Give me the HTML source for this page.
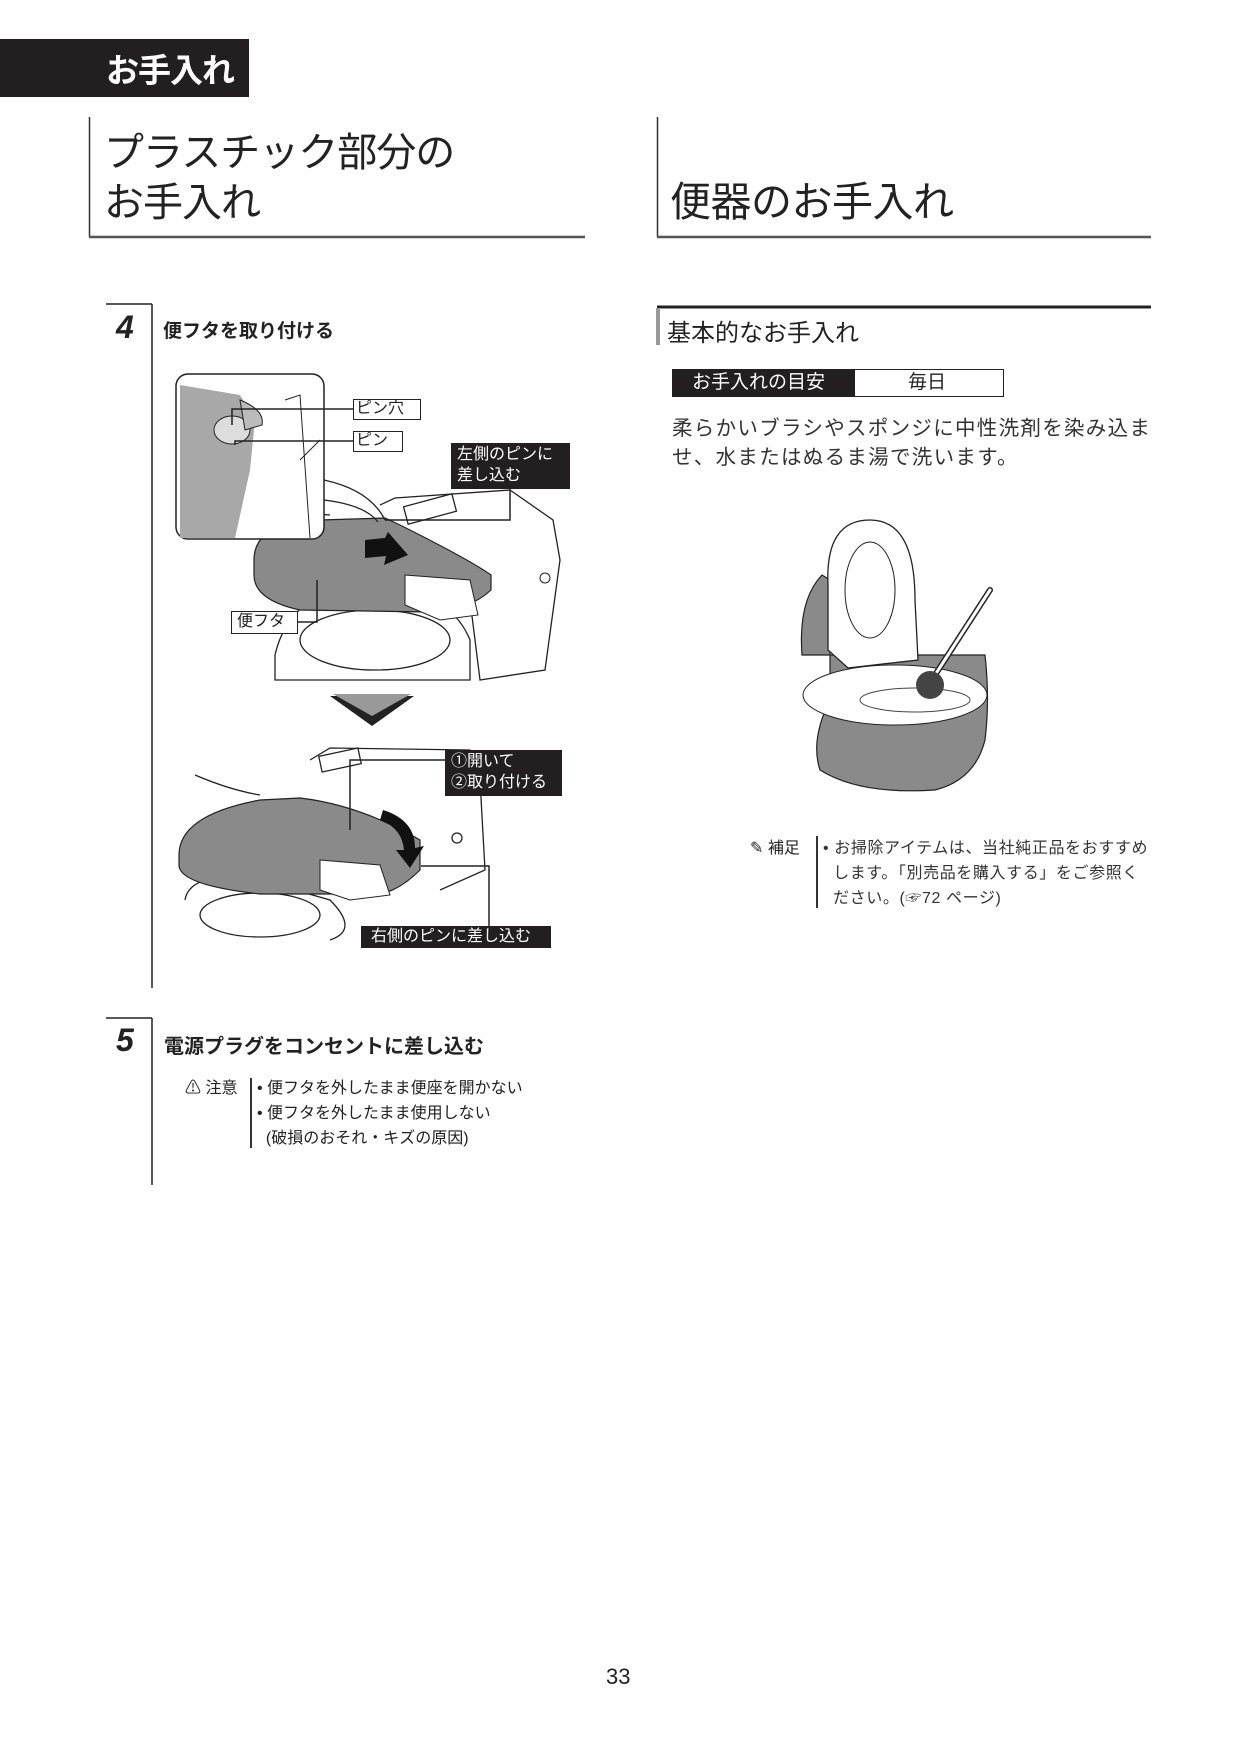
<!DOCTYPE html>
<html><head><meta charset="utf-8">
<style>
body{margin:0;background:#fff;}
#p{position:relative;width:1240px;height:1754px;overflow:hidden;font-family:"Liberation Sans","Noto Sans CJK JP",sans-serif;color:#222;}
.a{position:absolute;white-space:nowrap;}
</style></head><body><div id="p">
<svg width="1240" height="1754" style="position:absolute;left:0;top:0">
<rect x="0" y="39" width="249" height="58" fill="#231f20"/>
<line x1="89.5" y1="117" x2="89.5" y2="237" stroke="#333" stroke-width="1.5"/>
<line x1="89" y1="237" x2="585" y2="237" stroke="#555" stroke-width="2.5"/>
<line x1="657.5" y1="117" x2="657.5" y2="237" stroke="#333" stroke-width="1.5"/>
<line x1="657" y1="237" x2="1151" y2="237" stroke="#555" stroke-width="2.5"/>
<line x1="106" y1="304" x2="152" y2="304" stroke="#222" stroke-width="1.5"/>
<line x1="152" y1="304" x2="152" y2="988" stroke="#222" stroke-width="1.5"/>
<line x1="106" y1="1018" x2="152" y2="1018" stroke="#222" stroke-width="1.5"/>
<line x1="152" y1="1018" x2="152" y2="1185" stroke="#222" stroke-width="1.5"/>
<line x1="251" y1="1078" x2="251" y2="1148" stroke="#333" stroke-width="2"/>
<line x1="657" y1="307" x2="1151" y2="307" stroke="#222" stroke-width="3"/>
<line x1="658" y1="308" x2="658" y2="345" stroke="#999" stroke-width="4"/>
<rect x="672.5" y="369.5" width="331" height="27" fill="#fff" stroke="#222"/>
<rect x="672" y="369" width="183" height="28" fill="#231f20"/>
<line x1="817" y1="836" x2="817" y2="908" stroke="#333" stroke-width="2"/>
<g stroke="#222" stroke-width="1.3" fill="none">
<path d="M380 505 L395 498 L510 490 L553 520 L560 560 L545 670 L480 680 L470 600" fill="#fff"/>
<rect x="405" y="500" width="50" height="18" transform="rotate(-15 430 509)"/>
<path d="M275 655 Q290 590 370 580 Q450 590 470 640 L470 680 L275 680 Z" fill="#fff"/>
<ellipse cx="375" cy="640" rx="75" ry="30"/>
<path d="M265 520 Q300 512 330 515"/>
</g>
<path d="M254 560 Q254 522 320 520 L385 518 L400 525 Q470 560 491 575 L491 590 Q470 610 430 612 L300 610 Q254 600 254 575 Z" fill="#8a8a8a" stroke="#222" stroke-width="1.2"/>
<path d="M405 575 L470 580 L478 615 L440 620 L405 605 Z" fill="#fff" stroke="#222" stroke-width="1"/>
<path d="M365 540 L385 538 L388 532 L408 555 L384 565 L386 556 L365 558 Z" fill="#111"/>
<circle cx="545" cy="578" r="5" fill="none" stroke="#222"/>
<rect x="176" y="374" width="148" height="165" rx="12" fill="#fff" stroke="#222" stroke-width="1.5"/>
<path d="M180 385 L240 395 L255 420 L250 470 L235 538 L180 538 Z" fill="#a8a8a8"/>
<ellipse cx="232" cy="430" rx="18" ry="14" fill="#ddd" stroke="#222"/>
<path d="M240 400 Q265 410 262 425 L245 430 Z" fill="#bbb" stroke="#222"/>
<path d="M324 480 Q370 490 385 520 M324 500 Q365 505 378 522" stroke="#222" fill="none" stroke-width="1.3"/>
<path d="M285 400 L300 395 L310 538 M300 460 L320 440" stroke="#222" fill="none"/>
<g stroke="#222" stroke-width="1.5" fill="none">
<polyline points="232,425 232,409 353,409"/>
<polyline points="235,445 235,441 353,441"/>
<polyline points="510,489 510,520 385,520"/>
<polyline points="297,622 317,622 317,580"/>
</g>
<rect x="353.5" y="399.5" width="67" height="20" fill="#fff" stroke="#222"/>
<rect x="353.5" y="431.5" width="49" height="20" fill="#fff" stroke="#222"/>
<rect x="451" y="443" width="119" height="46" fill="#231f20"/>
<rect x="231.5" y="611.5" width="66" height="22" fill="#fff" stroke="#222"/>
<path d="M330 696 L414 696 L372 726 Z" fill="#222"/>
<path d="M333 694 L411 694 L372 716 Z" fill="#999"/>
<g stroke="#222" stroke-width="1.3" fill="none">
<path d="M310 760 L330 748 L470 750 L480 780 L485 870 L440 890" fill="#fff"/>
<rect x="320" y="752" width="40" height="16" transform="rotate(-12 340 760)"/>
<path d="M185 900 Q190 870 260 880 L330 900 Q360 930 330 940" />
<ellipse cx="260" cy="915" rx="60" ry="22"/>
<path d="M195 775 Q230 790 260 795 M210 815 Q230 815 250 820"/>
<circle cx="457" cy="838" r="5"/>
</g>
<path d="M179 855 Q179 815 260 800 L300 798 Q360 805 420 840 L420 870 Q400 890 380 894 L260 894 Q179 885 179 865 Z" fill="#8a8a8a" stroke="#222" stroke-width="1.2"/>
<path d="M320 860 L380 865 L390 895 L350 900 L320 890 Z" fill="#fff" stroke="#222"/>
<path d="M383 810 Q415 820 415 848 L424 846 L410 868 L396 850 L404 850 Q402 828 380 820 Z" fill="#111"/>
<g stroke="#222" stroke-width="1.5" fill="none">
<polyline points="350,830 350,760 447,760"/>
<polyline points="421,866 489,866 489,926"/>
</g>
<rect x="445" y="750" width="117" height="46" fill="#231f20"/>
<rect x="361" y="926" width="190" height="22" fill="#231f20"/>
<path d="M802 655 Q798 600 822 575 L830 580 L830 700 Q810 740 820 770 Q860 795 935 790 Q975 780 985 740 Q990 700 985 655 Z" fill="#8a8a8a" stroke="#222" stroke-width="1.2"/>
<ellipse cx="895" cy="695" rx="92" ry="30" fill="#fff" stroke="#222"/>
<path d="M828 585 Q825 520 870 520 Q915 520 915 600 L918 660 L848 668 L828 650 Z" fill="#fff" stroke="#222" stroke-width="1.3"/>
<ellipse cx="870" cy="590" rx="25" ry="48" fill="#fff" stroke="#222"/>
<line x1="990" y1="590" x2="935" y2="675" stroke="#222" stroke-width="6" stroke-linecap="round"/>
<line x1="990" y1="590" x2="935" y2="675" stroke="#fff" stroke-width="3" stroke-linecap="round"/>
<circle cx="930" cy="685" r="14" fill="#444"/>
<ellipse cx="915" cy="700" rx="55" ry="12" fill="none" stroke="#444"/>
</svg>

<div class="a" style="left:106px;top:44px;font-size:33px;font-weight:bold;color:#fff;letter-spacing:-1px">お手入れ</div>
<div class="a" style="left:104px;top:128px;font-size:40px;line-height:50px;letter-spacing:-1px">プラスチック部分の<br>お手入れ</div>
<div class="a" style="left:670px;top:177px;font-size:41px;line-height:50px;letter-spacing:-0.5px">便器のお手入れ</div>

<div class="a" style="left:116px;top:309px;font-size:32px;font-weight:bold;font-style:italic">4</div>
<div class="a" style="left:163px;top:316px;font-size:19px;font-weight:bold">便フタを取り付ける</div>
<div class="a" style="left:356px;top:399px;font-size:16px;line-height:20px">ピン穴</div>
<div class="a" style="left:356px;top:431px;font-size:16px;line-height:20px">ピン</div>
<div class="a" style="left:457px;top:444px;font-size:16px;line-height:21px;color:#fff">左側のピンに<br>差し込む</div>
<div class="a" style="left:237px;top:612px;font-size:16px;line-height:20px">便フタ</div>
<div class="a" style="left:451px;top:751px;font-size:16px;line-height:21px;color:#fff">①開いて<br>②取り付ける</div>
<div class="a" style="left:371px;top:927px;font-size:16px;line-height:20px;color:#fff">右側のピンに差し込む</div>

<div class="a" style="left:116px;top:1022px;font-size:32px;font-weight:bold;font-style:italic">5</div>
<div class="a" style="left:164px;top:1030px;font-size:20px;font-weight:bold">電源プラグをコンセントに差し込む</div>
<div class="a" style="left:185px;top:1076px;font-size:16px;line-height:25px">⚠ 注意</div>
<div class="a" style="left:257px;top:1076px;font-size:16px;line-height:25px">• 便フタを外したまま便座を開かない<br>• 便フタを外したまま使用しない<br>&nbsp;&nbsp;(破損のおそれ・キズの原因)</div>

<div class="a" style="left:667px;top:313px;font-size:24px">基本的なお手入れ</div>
<div class="a" style="left:692px;top:370px;font-size:19px;line-height:26px;color:#fff">お手入れの目安</div>
<div class="a" style="left:908px;top:370px;font-size:19px;line-height:26px">毎日</div>
<div class="a" style="left:672px;top:414px;font-size:20.5px;line-height:29px;letter-spacing:1.3px;color:#333">柔らかいブラシやスポンジに中性洗剤を染み込ま<br>せ、水またはぬるま湯で洗います。</div>

<div class="a" style="left:750px;top:836px;font-size:16px;line-height:25px">✎ 補足</div>
<div class="a" style="left:823px;top:836px;font-size:16px;line-height:25px;letter-spacing:0.6px;color:#333">• お掃除アイテムは、当社純正品をおすすめ<br>&nbsp;&nbsp;します。「別売品を購入する」をご参照く<br>&nbsp;&nbsp;ださい。(☞72 ページ)</div>

<div class="a" style="left:606px;top:1664px;font-size:22px">33</div>
</div></body></html>
